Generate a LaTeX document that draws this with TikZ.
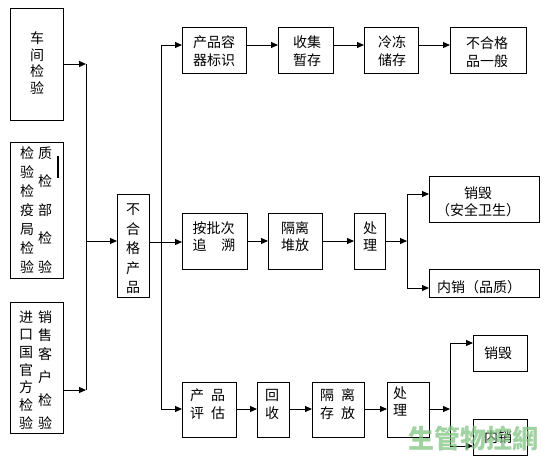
\documentclass[tikz,border=0pt]{standalone}
\usepackage{fontspec}
\newfontfamily\cjk{Noto Sans CJK SC}
\usetikzlibrary{arrows.meta}
\definecolor{wmgreen}{RGB}{130,195,130}
\tikzset{
  box/.style={draw, line width=1pt, inner sep=0pt, outer sep=0pt, fill=white},
  txt/.style={font=\cjk\fontsize{14}{18}\selectfont, inner sep=0pt, align=center},
  arr/.style={line width=1pt, -{Triangle[length=7pt,width=6pt]}},
  ln/.style={line width=1pt}
}
\begin{document}
\begin{tikzpicture}[x=1pt,y=-1pt]
\useasboundingbox (0,0) rectangle (545,463);
% left column
\node[box, minimum width=53, minimum height=112] (box1) at (36.5,64) {};
\node[box, minimum width=53, minimum height=136] (box2) at (36.5,210) {};
\node[box, minimum width=53, minimum height=131] (box3) at (36.5,367.5) {};
\node[txt, font=\cjk\fontsize{14}{16.7}\selectfont] (t1) at (37,63) {车\\间\\检\\验};
\node[txt, font=\cjk\fontsize{14}{19}\selectfont] (t2a) at (27,210) {检\\验\\检\\疫\\局\\检\\验};
\node[txt, font=\cjk\fontsize{14}{28.5}\selectfont] (t2b) at (45,210) {质\\检\\部\\检\\验};
\fill (57.2,156) rectangle (59.4,178);
\node[txt, font=\cjk\fontsize{14}{17.7}\selectfont] (t3a) at (26,370) {进\\口\\国\\官\\方\\检\\验};
\foreach \c/\y [count=\i] in {销/317,售/335,客/354,户/377,检/400,验/423}
  \node[txt] (t3b\i) at (45,\y) {\c};
% center box
\node[box, minimum width=32, minimum height=103] (ng) at (133,245.5) {};
\node[txt, font=\cjk\fontsize{14}{19.5}\selectfont] (tng) at (133,249) {不\\合\\格\\产\\品};
% top row
\node[box, minimum width=64, minimum height=46] (a1) at (214,50) {};
\node[box, minimum width=55, minimum height=46] (a2) at (305.5,50) {};
\node[box, minimum width=54, minimum height=46] (a3) at (391,50) {};
\node[box, minimum width=76, minimum height=46] (a4) at (488,50) {};
\node[txt] (ta1) at (214,51) {产品容\\器标识};
\node[txt] (ta2) at (307,51) {收集\\暂存};
\node[txt] (ta3) at (392,51) {冷冻\\储存};
\node[txt] (ta4) at (487,52) {不合格\\品一般};
% middle row
\node[box, minimum width=65, minimum height=56] (b1) at (214.5,241) {};
\node[box, minimum width=54, minimum height=56] (b2) at (295,241) {};
\node[box, minimum width=31, minimum height=56] (b3) at (369.5,241) {};
\node[box, minimum width=110, minimum height=46] (b4) at (484,199) {};
\node[box, minimum width=110, minimum height=28] (b5) at (484,283) {};
\node[txt, align=left, font=\cjk\fontsize{14}{17}\selectfont] (tb1) at (214,236.5) {按批次\\追\hspace{15pt}溯};
\node[txt, font=\cjk\fontsize{14}{17}\selectfont] (tb2) at (295,236.5) {隔离\\堆放};
\node[txt, font=\cjk\fontsize{14}{17}\selectfont] (tb3) at (370,236.5) {处\\理};
\node[txt, font=\cjk\fontsize{14}{17}\selectfont] (tb4) at (478,201.5) {销毁\\（安全卫生）};
\node[txt] (tb5) at (479,287) {内销（品质）};
% bottom row
\node[box, minimum width=54, minimum height=55] (c1) at (209,409.5) {};
\node[box, minimum width=32, minimum height=55] (c2) at (273,409.5) {};
\node[box, minimum width=52, minimum height=55] (c3) at (338,409.5) {};
\node[box, minimum width=42, minimum height=55] (c4) at (408,409.5) {};
\node[box, minimum width=54, minimum height=36] (c5) at (500,353) {};
\node[box, minimum width=54, minimum height=36] (c6) at (500,437) {};
\node[txt] (tc1) at (207.5,404) {产\hspace{7pt}品\\评\hspace{7pt}估};
\node[txt] (tc2) at (272,404) {回\\收};
\node[txt] (tc3) at (337.5,404) {隔\hspace{7pt}离\\存\hspace{7pt}放};
\node[txt, font=\cjk\fontsize{14}{17}\selectfont] (tc4) at (400,401.5) {处\\理};
\node[txt] (tc5) at (498,353) {销毁};
\node[txt] (tc6) at (498,437) {内销};
% junction coordinates
\coordinate (j1) at (86,64);
\coordinate (j2) at (86,241);
\coordinate (j3) at (86,390);
\coordinate (k1) at (161,45);
\coordinate (k2) at (161,242);
\coordinate (k3) at (161,409);
\coordinate (m1) at (407,194);
\coordinate (m2) at (407,241);
\coordinate (m3) at (407,288);
\coordinate (n1) at (450,343);
\coordinate (n2) at (450,409);
\coordinate (n3) at (450,446);
% left connectors
\draw[arr] (box1.east |- j1) -- (j1);
\draw[arr] (box3.east |- j3) -- (j3);
\draw[ln] (j1) -- (j3);
\draw[arr] (j2) -- (ng.west |- j2);
\draw[ln] (ng.east |- k2) -- (k2);
\draw[ln] (k1) -- (k3);
% top row
\draw[arr] (k1) -- (a1.west |- k1);
\draw[arr] (a1.east |- k1) -- (a2.west |- k1);
\draw[arr] (a2.east |- k1) -- (a3.west |- k1);
\draw[arr] (a3.east |- k1) -- (a4.west |- k1);
% middle row
\draw[arr] (k2) -- (b1.west |- k2);
\draw[arr] (b1.east |- m2) -- (b2.west |- m2);
\draw[arr] (b2.east |- m2) -- (b3.west |- m2);
\draw[arr] (b3.east |- m2) -- (m2);
\draw[ln] (m1) -- (m3);
\draw[arr] (m1) -- (b4.west |- m1);
\draw[arr] (m3) -- (b5.west |- m3);
% bottom row
\draw[arr] (k3) -- (c1.west |- k3);
\draw[arr] (c1.east |- n2) -- (c2.west |- n2);
\draw[arr] (c2.east |- n2) -- (c3.west |- n2);
\draw[arr] (c3.east |- n2) -- (c4.west |- n2);
\draw[arr] (c4.east |- n2) -- (n2);
\draw[ln] (n1) -- (n3);
\draw[arr] (n1) -- (c5.west |- n1);
\draw[arr] (n3) -- (c6.west |- n3);
% watermark
\node[inner sep=0pt, text=wmgreen, opacity=0.75, font=\cjk\bfseries\fontsize{26}{26}\selectfont] (wm) at (473,439) {生管物控網};
\end{tikzpicture}
\end{document}
